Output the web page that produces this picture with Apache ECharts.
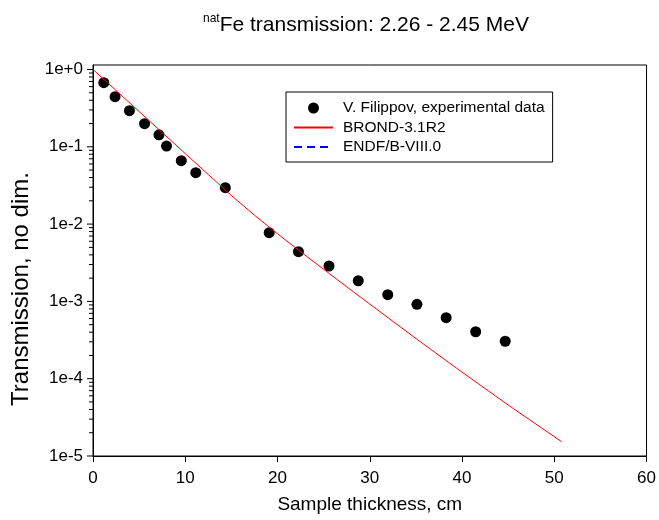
<!DOCTYPE html>
<html>
<head>
<meta charset="utf-8">
<script src="https://cdn.jsdelivr.net/npm/echarts@6/dist/echarts.min.js"></script>
<style>html,body{margin:0;padding:0;background:#fff;}#chart{width:659px;height:520px;}</style>
</head>
<body>
<div id="chart"></div>
<script>
// Experimental data (V. Filippov)
const xExp = [1.17, 2.39, 3.95, 5.59, 7.15, 7.97, 9.57, 11.14, 14.34, 19.10, 22.27, 25.58, 28.75, 31.95, 35.11, 38.28, 41.48, 44.68];
const tExp = [0.675, 0.445, 0.293, 0.199, 0.143, 0.102, 0.0661, 0.0462, 0.0296, 0.00774, 0.00440, 0.00287, 0.00185, 0.00122, 0.000917, 0.000615, 0.000405, 0.000305];
// BROND-3.1R2 calculation
const xBrond = [0, 5, 10, 12.5, 15, 17.5, 20, 22.5, 25, 27.5, 30, 35, 40, 45, 50.8];
const tBrond = [1, 0.2858, 0.0817, 0.04375, 0.02344, 0.01303, 0.0075, 0.00439, 0.0026, 0.001545, 0.000923, 0.000331, 0.0001216, 0.0000457, 0.0000153];
// ENDF/B-VIII.0 (not visible in plot)
const xEndf = [];
const tEndf = [];
// Axis ticks
const xTicks = [0, 10, 20, 30, 40, 50, 60];
const yTickValues = [1e-5, 1e-4, 1e-3, 1e-2, 1e-1, 1];
const yTickLabels = ['1e-5', '1e-4', '1e-3', '1e-2', '1e-1', '1e+0'];
const yMinorMantissas = [2, 3, 4, 5, 6, 7, 8, 9];
const yMin = 1e-5, yMax = 1.143;

const seriesNames = ['V. Filippov, experimental data', 'BROND-3.1R2', 'ENDF/B-VIII.0'];
const FONT = 'Liberation Sans, Arial, sans-serif';

// tick data for custom series (major + minor)
const yTickData = [];
yTickValues.forEach(v => yTickData.push([0, v, 1]));
yTickValues.slice(0, -1).forEach(d => yMinorMantissas.forEach(m => yTickData.push([0, m * d, 0])));

function yLabel(v) {
  const e = Math.log10(v);
  const r = Math.round(e);
  if (Math.abs(e - r) > 1e-6) return '';
  const i = yTickValues.findIndex(t => Math.abs(Math.log10(t) - r) < 1e-6);
  return i >= 0 ? yTickLabels[i] : '';
}

const chart = echarts.init(document.getElementById('chart'), null, {renderer: 'canvas'});
chart.setOption({
  backgroundColor: '#fff',
  animation: false,
  textStyle: {fontFamily: FONT},
  title: {
    text: '{sup|nat}{main|Fe transmission: 2.26 - 2.45 MeV}',
    left: 203, top: 13, padding: 0,
    textStyle: {
      fontWeight: 'normal',
      rich: {
        sup: {fontSize: 12, fontFamily: FONT, fontWeight: 'normal', color: '#000', verticalAlign: 'top', lineHeight: 12},
        main: {fontSize: 21, fontFamily: FONT, fontWeight: 'normal', color: '#000', lineHeight: 24}
      }
    }
  },
  grid: {left: 93, right: 3, top: 65, bottom: 64, show: true, borderColor: '#000', borderWidth: 1, backgroundColor: 'transparent'},
  legend: {
    orient: 'vertical',
    left: 286, top: 92,
    padding: [8, 8, 7, 7],
    backgroundColor: '#fff',
    borderColor: '#000', borderWidth: 1,
    borderRadius: 0,
    itemWidth: 39, itemHeight: 11,
    itemGap: 3.5,
    textStyle: {fontSize: 15.5, fontFamily: FONT, color: '#000', lineHeight: 14, padding: [0, 0, 0, 5]},
    data: [
      {name: seriesNames[0], icon: 'circle'},
      {name: seriesNames[1], itemStyle: {opacity: 0}},
      {name: seriesNames[2], itemStyle: {opacity: 0}}
    ]
  },
  xAxis: {
    type: 'value', min: xTicks[0], max: xTicks[xTicks.length - 1], interval: 10,
    name: 'Sample thickness, cm', nameLocation: 'middle', nameGap: 39,
    nameTextStyle: {fontSize: 19, fontFamily: FONT, color: '#000'},
    axisLine: {lineStyle: {color: '#000', width: 1}},
    axisTick: {inside: false, length: 6, lineStyle: {color: '#000'}},
    axisLabel: {fontSize: 17, fontFamily: FONT, color: '#000', margin: 14},
    splitLine: {show: false}
  },
  yAxis: {
    type: 'log', logBase: 10, min: yMin, max: yMax,
    name: 'Transmission, no dim.', nameLocation: 'middle', nameGap: 52,
    nameTextStyle: {fontSize: 24, fontFamily: FONT, color: '#000', padding: [0, 57, 0, 0]},
    axisLine: {lineStyle: {color: '#000', width: 1}},
    axisTick: {show: false},
    axisLabel: {fontSize: 17, fontFamily: FONT, color: '#000', margin: 10, formatter: yLabel, showMaxLabel: false},
    splitLine: {show: false}
  },
  series: [
    {
      name: seriesNames[0], type: 'scatter',
      data: xExp.map((x, i) => [x, tExp[i]]),
      symbol: 'circle', symbolSize: 11,
      itemStyle: {color: '#000', opacity: 1}, z: 2
    },
    {
      name: seriesNames[1], type: 'line',
      data: xBrond.map((x, i) => [x, tBrond[i]]),
      showSymbol: false, symbol: 'none',
      lineStyle: {color: '#ff0000', width: 1}, itemStyle: {color: '#ff0000'}, z: 4
    },
    {
      name: seriesNames[2], type: 'line',
      data: xEndf.map((x, i) => [x, tEndf[i]]),
      showSymbol: false, symbol: 'none',
      lineStyle: {color: '#0000ff', width: 2, type: [8, 5]}, itemStyle: {color: '#0000ff'}, z: 3
    },
    {
      name: 'yticks', type: 'custom', silent: true, clip: false,
      data: yTickData,
      encode: {x: 0, y: 1},
      renderItem: function (params, api) {
        const p = api.coord([api.value(0), api.value(1)]);
        const len = api.value(2) ? 6 : 4;
        return {
          type: 'line',
          shape: {x1: p[0] - len, y1: p[1], x2: p[0], y2: p[1]},
          style: {stroke: '#000', lineWidth: 1}
        };
      },
      z: 5
    }
  ]
});
</script>
</body>
</html>
